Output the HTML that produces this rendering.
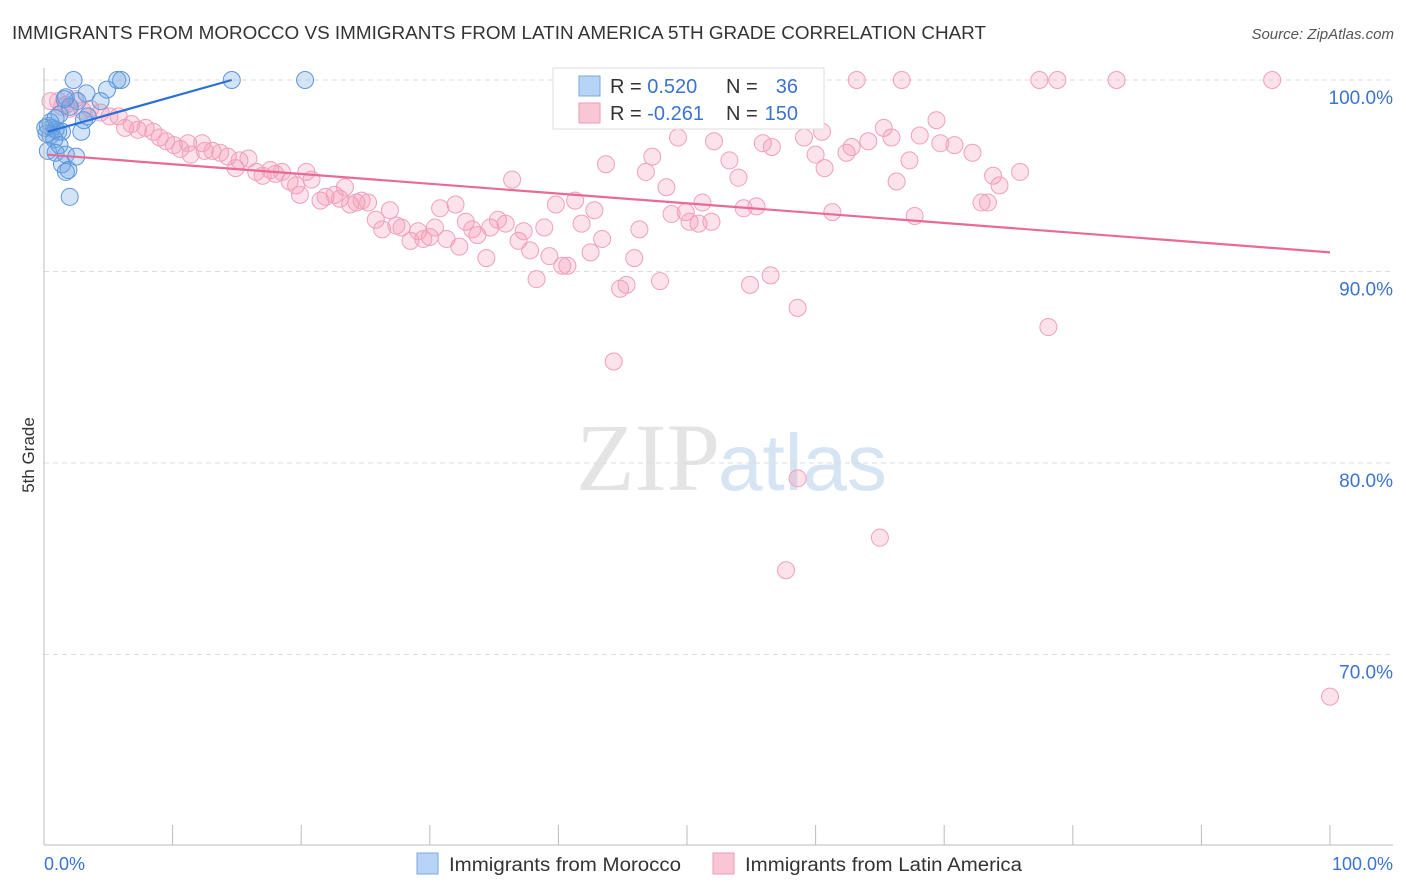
<!DOCTYPE html>
<html><head><meta charset="utf-8"><style>
body{margin:0;background:#fff;font-family:"Liberation Sans",sans-serif;}
svg{display:block}
</style></head><body>
<svg id="chart" width="1406" height="892">
<text x="12" y="39" font-size="18" fill="#333" textLength="974" lengthAdjust="spacingAndGlyphs">IMMIGRANTS FROM MOROCCO VS IMMIGRANTS FROM LATIN AMERICA 5TH GRADE CORRELATION CHART</text>
<text x="1394" y="39" font-size="15" fill="#555" text-anchor="end" font-style="italic">Source: ZipAtlas.com</text>
<text x="720" y="490" font-size="96" fill="#e4e4e4" text-anchor="end" font-family="Liberation Serif,serif">ZIP</text>
<text x="718" y="490" font-size="80" fill="#d6e4f4">atlas</text>
<text transform="translate(34,455) rotate(-90)" font-size="17" fill="#333" text-anchor="middle">5th Grade</text>
<g id="grid"></g><g id="pts"></g><g id="lines"></g>
<line x1="44" y1="68" x2="44" y2="845" stroke="#bbb"/>
<line x1="44" y1="845" x2="1393" y2="845" stroke="#bbb"/>
<text x="44" y="870" font-size="18" fill="#3b73cf">0.0%</text>
<text x="1393" y="870" font-size="18" fill="#3b73cf" text-anchor="end">100.0%</text>
<g>
<rect x="553" y="68" width="271" height="61" fill="#fff" stroke="#ddd"/>
<rect x="579" y="76" width="21" height="20" fill="#b7d3f5" stroke="#7aa8e0"/>
<rect x="579" y="103" width="21" height="20" fill="#f9c6d5" stroke="#ee9ab5"/>
<text x="610" y="93" font-size="20" fill="#333">R = <tspan fill="#3b73cf">0.520</tspan></text>
<text x="726" y="93" font-size="20" fill="#333">N = </text><text x="798" y="93" font-size="20" fill="#3b73cf" text-anchor="end">36</text>
<text x="610" y="120" font-size="20" fill="#333">R = <tspan fill="#3b73cf">-0.261</tspan></text>
<text x="726" y="120" font-size="20" fill="#333">N = </text><text x="798" y="120" font-size="20" fill="#3b73cf" text-anchor="end">150</text>
</g>
<g>
<rect x="417" y="853" width="21" height="21" fill="#b7d3f5" stroke="#7aa8e0"/>
<text x="449" y="871" font-size="19" fill="#333" textLength="232" lengthAdjust="spacingAndGlyphs">Immigrants from Morocco</text>
<rect x="713" y="853" width="21" height="21" fill="#f9c6d5" stroke="#ee9ab5"/>
<text x="745" y="871" font-size="19" fill="#333" textLength="277" lengthAdjust="spacingAndGlyphs">Immigrants from Latin America</text>
</g>
</svg>
<script>
const yTicks=[100,90,80,70];
const yTickLabels=["100.0%","90.0%","80.0%","70.0%"];
const xTicks=[0,10,20,30,40,50,60,70,80,90,100];
const blueX=[2.3,5.7,6.0,14.6,20.3,3.3,4.9,4.4,1.7,2.6,2.0,1.2,3.4,0.3,0.6,0.9,0.5,1.1,1.4,0.2,0.8,1.2,2.9,0.3,0.9,1.7,2.5,1.4,1.9,1.7,2.0,0.5,1.6,0.9,0.1,3.1];
const blueY=[100,100,100,100,100,99.3,99.5,98.9,99.1,98.9,98.6,98.2,98.1,97.6,97.5,97.4,97.1,97.3,97.3,97.2,96.9,96.6,97.3,96.3,96.2,96.1,96.0,95.6,95.3,95.2,93.9,97.8,99.0,98.0,97.5,97.9];
const pinkX=[63.2,66.7,77.4,78.8,83.4,95.5,53.1,0.5,1.1,1.7,2.4,1.4,2.0,3.0,3.6,4.4,5.1,5.8,6.3,6.8,7.3,7.9,8.5,9.0,9.5,10.1,10.6,11.4,11.2,12.3,12.5,13.1,13.7,14.3,14.9,15.2,15.9,16.5,17.0,17.6,18.0,18.5,19.1,19.6,19.9,20.4,20.8,21.5,21.9,22.6,23.0,23.4,23.8,24.3,24.7,25.2,25.8,26.3,26.9,27.4,27.8,28.5,29.1,29.5,30.0,30.4,30.8,31.3,32.0,32.3,32.8,33.3,33.7,34.4,34.7,35.3,35.9,36.4,36.9,37.3,37.8,38.3,38.9,39.3,39.8,40.3,40.7,41.3,41.8,42.5,42.8,43.4,43.7,44.3,44.8,45.3,45.9,46.3,46.8,47.3,47.9,48.4,48.8,49.3,49.9,50.2,50.9,51.2,51.9,52.1,53.3,54.0,54.4,54.9,55.4,55.9,56.5,56.6,58.6,59.1,60.0,60.5,60.7,61.3,62.4,62.8,64.1,65.3,65.9,66.3,67.3,67.7,68.1,69.4,69.7,70.8,72.2,72.9,73.4,73.8,74.3,75.9,78.1,58.6,65.0,57.7,100];
const pinkY=[100,100,100,100,100,100,98.3,98.9,98.9,98.7,99.0,98.6,98.5,98.4,98.5,98.3,98.1,98.1,97.5,97.7,97.4,97.5,97.3,97.0,96.8,96.6,96.4,96.1,96.7,96.7,96.3,96.3,96.2,96.0,95.4,95.8,95.9,95.2,95.0,95.3,95.1,95.2,94.7,94.5,94.0,95.2,94.8,93.7,93.9,94.0,93.8,94.4,93.5,93.6,93.7,93.6,92.7,92.2,93.2,92.4,92.3,91.6,92.1,91.7,91.8,92.3,93.3,91.7,93.5,91.3,92.6,92.2,91.9,90.7,92.3,92.7,92.5,94.8,91.6,92.1,91.1,89.6,92.3,90.8,93.5,90.3,90.3,93.7,92.5,91.0,93.2,91.7,95.6,85.3,89.1,89.3,90.7,92.2,95.2,96.0,89.5,94.4,93.0,97.0,93.1,92.6,92.5,93.6,92.6,96.8,95.8,94.9,93.3,89.3,93.4,96.7,89.8,96.5,88.1,97.0,96.1,97.3,95.4,93.1,96.2,96.5,96.8,97.5,97.0,94.7,95.8,92.9,97.1,97.9,96.7,96.6,96.2,93.6,93.6,95.0,94.5,95.2,87.1,79.2,76.1,74.4,67.8];
const blueTrendX=[0.3,14.6];
const blueTrendY=[97.3,100];
const pinkTrendX=[0.3,100];
const pinkTrendY=[96.1,91.0];

const NS="http://www.w3.org/2000/svg";
const X=v=>44+v*12.86;
const Y=v=>80+(100-v)*19.15;
function mk(tag,attrs,parent){const e=document.createElementNS(NS,tag);for(const k in attrs)e.setAttribute(k,attrs[k]);parent.appendChild(e);return e;}
const grid=document.getElementById('grid');
yTicks.forEach((t,i)=>{
 const l=mk('line',{x1:44,x2:1393,y1:Y(t),y2:Y(t),stroke:'#ddd','stroke-dasharray':'5,4'},grid);
 
 
 const tx=mk('text',{x:1393,y:Y(t)+24,'font-size':19,fill:'#3b73cf','text-anchor':'end'},grid);
 tx.textContent=yTickLabels[i];
 
 
});
xTicks.forEach(t=>{
 const l=mk('line',{x1:X(t),x2:X(t),y1:825,y2:845,stroke:'#bbb'},grid);
 
 
});
const pts=document.getElementById('pts');
pinkX.forEach((v,i)=>{
 const c=mk('circle',{cx:X(v),cy:Y(pinkY[i]),r:8.5,fill:'rgba(244,150,180,0.28)',stroke:'#f0a0bb','stroke-width':1},pts);
 
 
});
blueX.forEach((v,i)=>{
 const c=mk('circle',{cx:X(v),cy:Y(blueY[i]),r:8.5,fill:'rgba(110,165,230,0.3)',stroke:'#5f95dc','stroke-width':1},pts);
 
 
});
const lines=document.getElementById('lines');
const bl=mk('line',{x1:X(blueTrendX[0]),y1:Y(blueTrendY[0]),x2:X(blueTrendX[1]),y2:Y(blueTrendY[1]),stroke:'#2d6fd6','stroke-width':2.2},lines);


const pl=mk('line',{x1:X(pinkTrendX[0]),y1:Y(pinkTrendY[0]),x2:X(pinkTrendX[1]),y2:Y(pinkTrendY[1]),stroke:'#e86a96','stroke-width':2.2},lines);


</script>
</body></html>
